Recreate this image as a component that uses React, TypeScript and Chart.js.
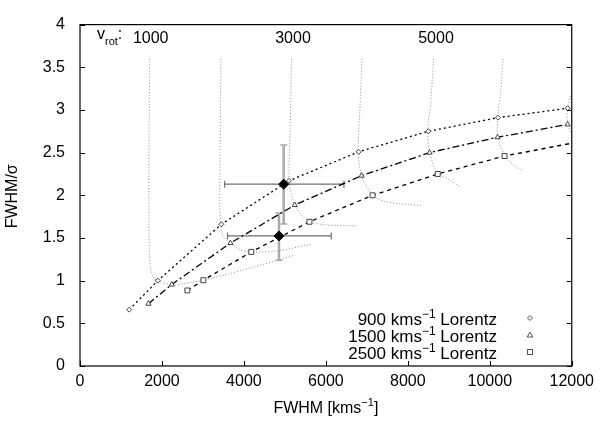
import React, { useEffect, useRef } from 'react';
import { Chart, registerables } from 'chart.js';

Chart.register(...registerables);

// ---- axis ticks ----
const xTicks = [0, 2000, 4000, 6000, 8000, 10000, 12000];
const yTicks = [0, 0.5, 1, 1.5, 2, 2.5, 3, 3.5, 4];

// ---- model curves (FWHM, FWHM/sigma) ----
const fwhm900 = [1200, 1900, 3450, 5100, 6800, 8500, 10200, 11900];
const ratio900 = [0.66, 1.0, 1.66, 2.17, 2.51, 2.75, 2.91, 3.02];
const fwhm1500 = [1670, 2240, 3670, 5240, 6870, 8530, 10190, 11900];
const ratio1500 = [0.73, 0.955, 1.44, 1.886, 2.23, 2.5, 2.68, 2.83];
const fwhm2500 = [2620, 3010, 4180, 5600, 7140, 8730, 10360, 12000];
const ratio2500 = [0.885, 1.005, 1.337, 1.69, 2.0, 2.25, 2.46, 2.61];

// ---- constant v_rot curves ----
const vrot1000X = [1700, 1690, 1680, 1690, 1720, 1790, 1880, 2240, 3010, 4840, 5250];
const vrot1000Y = [3.6, 3.0, 2.0, 1.4, 1.15, 1.04, 1.0, 0.955, 1.005, 1.24, 1.3];
const vrot2000X = [3440, 3420, 3410, 3440, 3480, 3670, 3880, 4180, 4840, 5650];
const vrot2000Y = [3.6, 2.5, 1.9, 1.66, 1.53, 1.44, 1.37, 1.337, 1.35, 1.43];
const vrot3000X = [5160, 5130, 5100, 5160, 5240, 5400, 5600, 5970, 6780];
const vrot3000Y = [3.6, 2.8, 2.17, 2.01, 1.886, 1.77, 1.69, 1.655, 1.64];
const vrot4000X = [6880, 6830, 6790, 6872, 7140, 7500, 8350];
const vrot4000Y = [3.6, 3.0, 2.51, 2.23, 2.0, 1.92, 1.88];
const vrot5000X = [8630, 8560, 8485, 8533, 8727, 8950, 9270];
const vrot5000Y = [3.6, 3.1, 2.745, 2.5, 2.25, 2.2, 2.1];
const vrot6000X = [10320, 10260, 10194, 10194, 10363, 10565, 10806];
const vrot6000Y = [3.6, 3.2, 2.91, 2.68, 2.46, 2.36, 2.29];
const vrot7000X = [12050, 11904, 11904, 12100];
const vrot7000Y = [3.3, 3.02, 2.83, 2.62];

// ---- measured points with error bars ----
const pointX = [4970, 4855];
const pointY = [2.13, 1.524];
const xErrLo = [3530, 3600];
const xErrHi = [6440, 6130];
const yErrLo = [1.663, 1.24];
const yErrHi = [2.588, 1.793];

// ---- labels ----
const vrotLabels = ['1000', '3000', '5000'];
const legendValues = ['900', '1500', '2500'];

const FONT = "'Liberation Sans', Arial, Helvetica, sans-serif";

const zip = (xs: number[], ys: number[]) => xs.map((x, i) => ({ x, y: ys[i] }));

type Part = { t: string; size: number; dy: number };

function richWidth(ctx: CanvasRenderingContext2D, parts: Part[]) {
  let w = 0;
  for (const p of parts) {
    ctx.font = `${p.size}px ${FONT}`;
    w += ctx.measureText(p.t).width;
  }
  return w;
}

function drawRich(ctx: CanvasRenderingContext2D, parts: Part[], x: number, y: number, align: 'left' | 'right' | 'center') {
  const w = richWidth(ctx, parts);
  let cx = align === 'left' ? x : align === 'right' ? x - w : x - w / 2;
  ctx.textAlign = 'left';
  ctx.textBaseline = 'alphabetic';
  for (const p of parts) {
    ctx.font = `${p.size}px ${FONT}`;
    ctx.fillText(p.t, cx, y + p.dy);
    cx += ctx.measureText(p.t).width;
  }
}

const overlay = {
  id: 'overlay',
  afterDraw(chart: any) {
    const { ctx, chartArea: a, scales } = chart;
    const xs = scales.x;
    const ys = scales.y;
    ctx.save();
    // frame
    ctx.strokeStyle = '#000';
    ctx.lineWidth = 1.2;
    ctx.setLineDash([]);
    ctx.strokeRect(a.left, a.top, a.right - a.left, a.bottom - a.top);
    // inward ticks
    ctx.beginPath();
    ctx.lineWidth = 1;
    for (const v of xTicks) {
      const px = Math.round(xs.getPixelForValue(v)) + 0.5;
      ctx.moveTo(px, a.bottom);
      ctx.lineTo(px, a.bottom - 5);
    }
    for (const v of yTicks) {
      const py = Math.round(ys.getPixelForValue(v)) + 0.5;
      ctx.moveTo(a.left, py);
      ctx.lineTo(a.left + 5, py);
      ctx.moveTo(a.right, py);
      ctx.lineTo(a.right - 5, py);
    }
    ctx.stroke();

    ctx.fillStyle = '#000';
    // x title
    drawRich(
      ctx,
      [
        { t: 'FWHM [kms', size: 16, dy: 0 },
        { t: '\u22121', size: 11, dy: -7 },
        { t: ']', size: 16, dy: 0 },
      ],
      (a.left + a.right) / 2,
      413,
      'center'
    );
    // y title
    ctx.save();
    ctx.translate(17, (a.top + a.bottom) / 2 + 1);
    ctx.rotate(-Math.PI / 2);
    ctx.font = `16px ${FONT}`;
    ctx.textAlign = 'center';
    ctx.textBaseline = 'alphabetic';
    ctx.fillText('FWHM/\u03c3', 0, 0);
    ctx.restore();

    // v_rot labels
    drawRich(
      ctx,
      [
        { t: 'v', size: 16, dy: -4 },
        { t: 'rot', size: 11, dy: 2 },
        { t: ':', size: 16, dy: -4 },
      ],
      97,
      43,
      'left'
    );
    ctx.font = `16px ${FONT}`;
    ctx.textAlign = 'center';
    const labelCenters = [150.7, 293, 436];
    vrotLabels.forEach((t, i) => ctx.fillText(t, labelCenters[i], 43));

    // legend
    const rowBase = [325, 342, 359];
    legendValues.forEach((v, i) => {
      drawRich(
        ctx,
        [
          { t: `${v} kms`, size: 17, dy: 0 },
          { t: '\u22121', size: 12, dy: -7 },
          { t: ' Lorentz', size: 17, dy: 0 },
        ],
        497,
        rowBase[i],
        'right'
      );
    });
    // legend markers
    ctx.strokeStyle = '#555';
    ctx.lineWidth = 1;
    const mx = 530;
    // diamond
    let my = 318;
    ctx.beginPath();
    ctx.moveTo(mx, my - 2.5);
    ctx.lineTo(mx + 2.5, my);
    ctx.lineTo(mx, my + 2.5);
    ctx.lineTo(mx - 2.5, my);
    ctx.closePath();
    ctx.stroke();
    // triangle
    my = 335;
    ctx.beginPath();
    ctx.moveTo(mx, my - 3);
    ctx.lineTo(mx + 2.8, my + 2);
    ctx.lineTo(mx - 2.8, my + 2);
    ctx.closePath();
    ctx.stroke();
    // square
    my = 352;
    ctx.strokeRect(mx - 2.5, my - 2.5, 5, 5);
    ctx.restore();
  },
};

export default function App() {
  const ref = useRef<HTMLCanvasElement | null>(null);

  useEffect(() => {
    if (!ref.current) return;
    const vrotStyle = {
      showLine: true,
      borderColor: '#8c8c8c',
      borderWidth: 1,
      borderDash: [1, 2],
      pointRadius: 0,
      tension: 0.3,
      order: 10,
    };
    const markerCommon = {
      showLine: true,
      borderColor: '#000',
      borderWidth: 1.3,
      pointBorderColor: '#444',
      pointBackgroundColor: '#fff',
      pointBorderWidth: 1,
      tension: 0,
      order: 3,
    };
    const errDatasets: any[] = [];
    pointX.forEach((px, i) => {
      errDatasets.push({
        data: [
          { x: px, y: yErrLo[i] },
          { x: px, y: yErrHi[i] },
        ],
        showLine: true,
        borderColor: '#aaaaaa',
        borderWidth: 2.5,
        pointStyle: 'line',
        rotation: 0,
        pointRadius: 3.5,
        pointBorderColor: '#aaaaaa',
        pointBorderWidth: 1.5,
        order: 5,
      });
      errDatasets.push({
        data: [
          { x: xErrLo[i], y: pointY[i] },
          { x: xErrHi[i], y: pointY[i] },
        ],
        showLine: true,
        borderColor: '#6e6e6e',
        borderWidth: 1.3,
        pointStyle: 'line',
        rotation: 90,
        pointRadius: 3.5,
        pointBorderColor: '#6e6e6e',
        pointBorderWidth: 1.2,
        order: 4,
      });
    });

    const chart = new Chart(ref.current, {
      type: 'scatter',
      data: {
        datasets: [
          { ...vrotStyle, data: zip(vrot1000X, vrot1000Y) },
          { ...vrotStyle, data: zip(vrot2000X, vrot2000Y) },
          { ...vrotStyle, data: zip(vrot3000X, vrot3000Y) },
          { ...vrotStyle, data: zip(vrot4000X, vrot4000Y) },
          { ...vrotStyle, data: zip(vrot5000X, vrot5000Y) },
          { ...vrotStyle, data: zip(vrot6000X, vrot6000Y) },
          { ...vrotStyle, data: zip(vrot7000X, vrot7000Y) },
          ...errDatasets,
          {
            ...markerCommon,
            data: zip(fwhm900, ratio900),
            borderDash: [2, 3],
            pointStyle: 'rectRot',
            pointRadius: 2.5,
          },
          {
            ...markerCommon,
            data: zip(fwhm1500, ratio1500),
            borderDash: [7, 3, 2, 3],
            pointStyle: 'triangle',
            pointRadius: 3,
          },
          {
            ...markerCommon,
            data: zip(fwhm2500, ratio2500),
            borderDash: [4, 4],
            pointStyle: 'rect',
            pointRadius: fwhm2500.map((_, i) => (i === fwhm2500.length - 1 ? 0 : 3.5)),
          },
          {
            data: zip(pointX, pointY),
            showLine: false,
            pointStyle: 'rectRot',
            pointRadius: 5,
            pointBackgroundColor: '#000',
            pointBorderColor: '#000',
            pointBorderWidth: 1,
            order: 0,
          },
        ] as any,
      },
      options: {
        animation: false,
        responsive: true,
        maintainAspectRatio: false,
        events: [],
        layout: { padding: { top: 9, right: 24, left: 0, bottom: 0 } },
        plugins: {
          legend: { display: false },
          tooltip: { enabled: false },
        },
        scales: {
          x: {
            type: 'linear',
            min: 0,
            max: 12000,
            grid: { display: false, drawTicks: false },
            border: { display: false },
            afterBuildTicks: (s: any) => {
              s.ticks = xTicks.map((v) => ({ value: v }));
            },
            afterFit: (s: any) => {
              s.height = 55;
            },
            ticks: {
              padding: 6,
              color: '#000',
              font: { family: FONT, size: 16 },
              maxRotation: 0,
              autoSkip: false,
              callback: (v: any) => String(v),
            },
          },
          y: {
            type: 'linear',
            min: 0,
            max: 4,
            grid: { display: false, drawTicks: false },
            border: { display: false },
            afterBuildTicks: (s: any) => {
              s.ticks = yTicks.map((v) => ({ value: v }));
            },
            afterFit: (s: any) => {
              s.width = 80;
            },
            ticks: {
              padding: 15,
              color: '#000',
              font: { family: FONT, size: 16 },
              autoSkip: false,
              callback: (v: any) => String(v),
            },
          },
        },
      } as any,
      plugins: [overlay],
    });
    return () => chart.destroy();
  }, []);

  return (
    <div style={{ position: 'absolute', left: 0, top: 0, width: 600, height: 421, background: '#fff' }}>
      <canvas ref={ref} />
    </div>
  );
}
